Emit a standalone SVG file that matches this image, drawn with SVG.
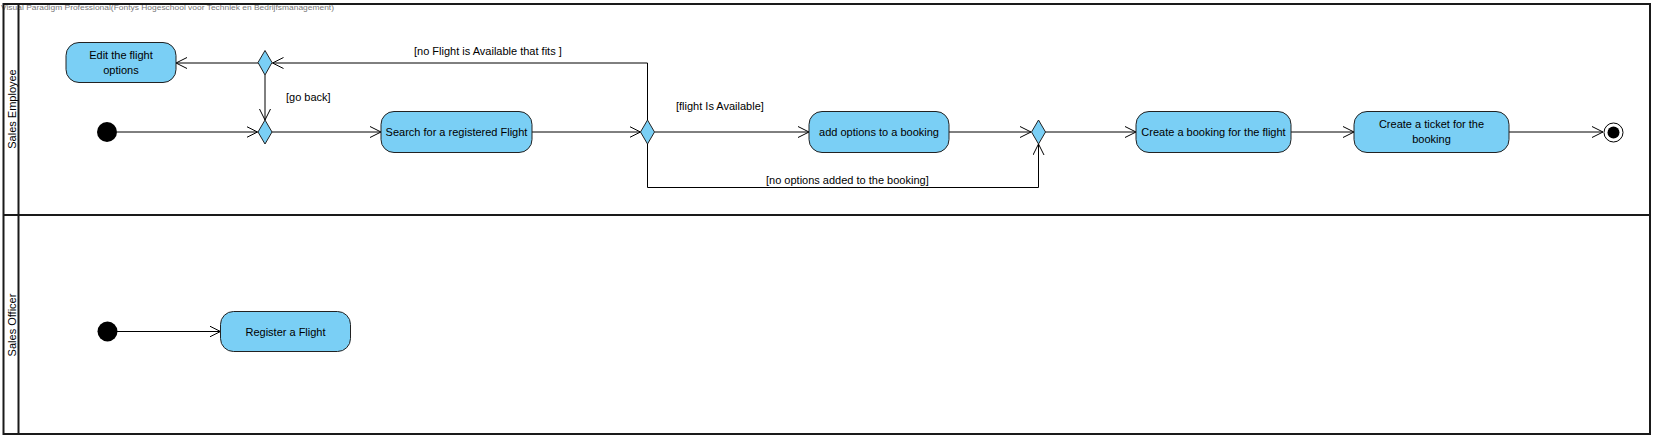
<svg xmlns="http://www.w3.org/2000/svg" width="1659" height="443" viewBox="0 0 1659 443">
<style>
.act{fill:#7ACFF5;stroke:#222;stroke-width:1}
.dec{fill:#7ACFF5;stroke:#222;stroke-width:1}
.t{font-family:"Liberation Sans",Arial,sans-serif;font-size:11px;fill:#000}
.lbl{font-family:"Liberation Sans",Arial,sans-serif;font-size:11px;fill:#000}
.edge{fill:none;stroke:#000;stroke-width:1}
.frame{fill:none;stroke:#1a1a1a;stroke-width:2}
</style>
<defs>
<marker id="arr" viewBox="0 0 12 12" refX="11" refY="6" markerWidth="12" markerHeight="12" markerUnits="userSpaceOnUse" orient="auto">
<path d="M0,0.5 L11,6 L0,11.5" fill="none" stroke="#000" stroke-width="1"/>
</marker>
</defs>
<rect width="1659" height="443" fill="#fff"/>
<text x="1" y="10" font-family="Liberation Sans, Arial, sans-serif" font-size="8" fill="#777" textLength="333" lengthAdjust="spacingAndGlyphs">Visual Paradigm Professional(Fontys Hogeschool voor Techniek en Bedrijfsmanagement)</text>
<g id="swimlanes">
<rect class="frame" x="3.5" y="4" width="1646.5" height="430"/>
<line class="frame" x1="18.5" y1="4" x2="18.5" y2="434"/>
<line class="frame" x1="3.5" y1="215" x2="1650" y2="215"/>
<text class="t" transform="translate(16,109) rotate(-90)" text-anchor="middle">Sales Employee</text>
<text class="t" transform="translate(16,325) rotate(-90)" text-anchor="middle">Sales Officer</text>
</g>
<g id="connectors">
<line class="edge" x1="117" y1="132" x2="257.5" y2="132" marker-end="url(#arr)"/>
<line class="edge" x1="271.5" y1="132" x2="381" y2="132" marker-end="url(#arr)"/>
<line class="edge" x1="532" y1="132" x2="640.5" y2="132" marker-end="url(#arr)"/>
<line class="edge" x1="654.5" y1="132" x2="809" y2="132" marker-end="url(#arr)"/>
<line class="edge" x1="949" y1="132" x2="1031" y2="132" marker-end="url(#arr)"/>
<line class="edge" x1="1045" y1="132" x2="1136" y2="132" marker-end="url(#arr)"/>
<line class="edge" x1="1291" y1="132" x2="1354" y2="132" marker-end="url(#arr)"/>
<line class="edge" x1="1509" y1="132" x2="1603" y2="132" marker-end="url(#arr)"/>
<polyline class="edge" points="647.5,120 647.5,63 272.5,63" marker-end="url(#arr)"/>
<polyline class="edge" points="647.5,144 647.5,187.5 1038.5,187.5 1038.5,144" marker-end="url(#arr)"/>
<line class="edge" x1="258" y1="63" x2="176" y2="63" marker-end="url(#arr)"/>
<line class="edge" x1="265" y1="75" x2="265" y2="120" marker-end="url(#arr)"/>
<line class="edge" x1="117" y1="331.5" x2="220.5" y2="331.5" marker-end="url(#arr)"/>
<text class="lbl" x="414" y="55">[no Flight is Available that fits ]</text>
<text class="lbl" x="286" y="101">[go back]</text>
<text class="lbl" x="676" y="110">[flight Is Available]</text>
<text class="lbl" x="766" y="184">[no options added to the booking]</text>
</g>
<g id="start1"><circle cx="107" cy="132" r="10" fill="#000"/></g>
<g id="edit"><rect class="act" x="66" y="42.5" width="110" height="40" rx="13"/><text class="t" x="121" y="59" text-anchor="middle">Edit the flight</text><text class="t" x="121" y="74" text-anchor="middle">options</text></g>
<g id="dec1"><polygon class="dec" points="265,50.5 272,62.5 265,75 258,62.5"/></g>
<g id="dec2"><polygon class="dec" points="265,120 272,132 265,144 258,132"/></g>
<g id="search"><rect class="act" x="381" y="111.5" width="151" height="41" rx="13"/><text class="t" x="456.5" y="136" text-anchor="middle">Search for a registered Flight</text></g>
<g id="dec3"><polygon class="dec" points="647.5,120 654.5,132 647.5,144 640.5,132"/></g>
<g id="addopt"><rect class="act" x="809" y="111.5" width="140" height="41" rx="13"/><text class="t" x="879" y="136" text-anchor="middle">add options to a booking</text></g>
<g id="dec4"><polygon class="dec" points="1038.5,120 1045.5,132 1038.5,144 1031.5,132"/></g>
<g id="booking"><rect class="act" x="1136" y="111.5" width="155" height="41" rx="13"/><text class="t" x="1213.5" y="136" text-anchor="middle">Create a booking for the flight</text></g>
<g id="ticket"><rect class="act" x="1354" y="111.5" width="155" height="41" rx="13"/><text class="t" x="1431.5" y="128" text-anchor="middle">Create a ticket for the</text><text class="t" x="1431.5" y="143" text-anchor="middle">booking</text></g>
<g id="final"><circle cx="1613.5" cy="132.5" r="9.5" fill="#fff" stroke="#000" stroke-width="1"/><circle cx="1613.5" cy="132.5" r="6" fill="#000"/></g>
<g id="start2"><circle cx="107.5" cy="331.5" r="10" fill="#000"/></g>
<g id="register"><rect class="act" x="220.5" y="311.5" width="130" height="40" rx="13"/><text class="t" x="285.5" y="335.5" text-anchor="middle">Register a Flight</text></g>
</svg>
